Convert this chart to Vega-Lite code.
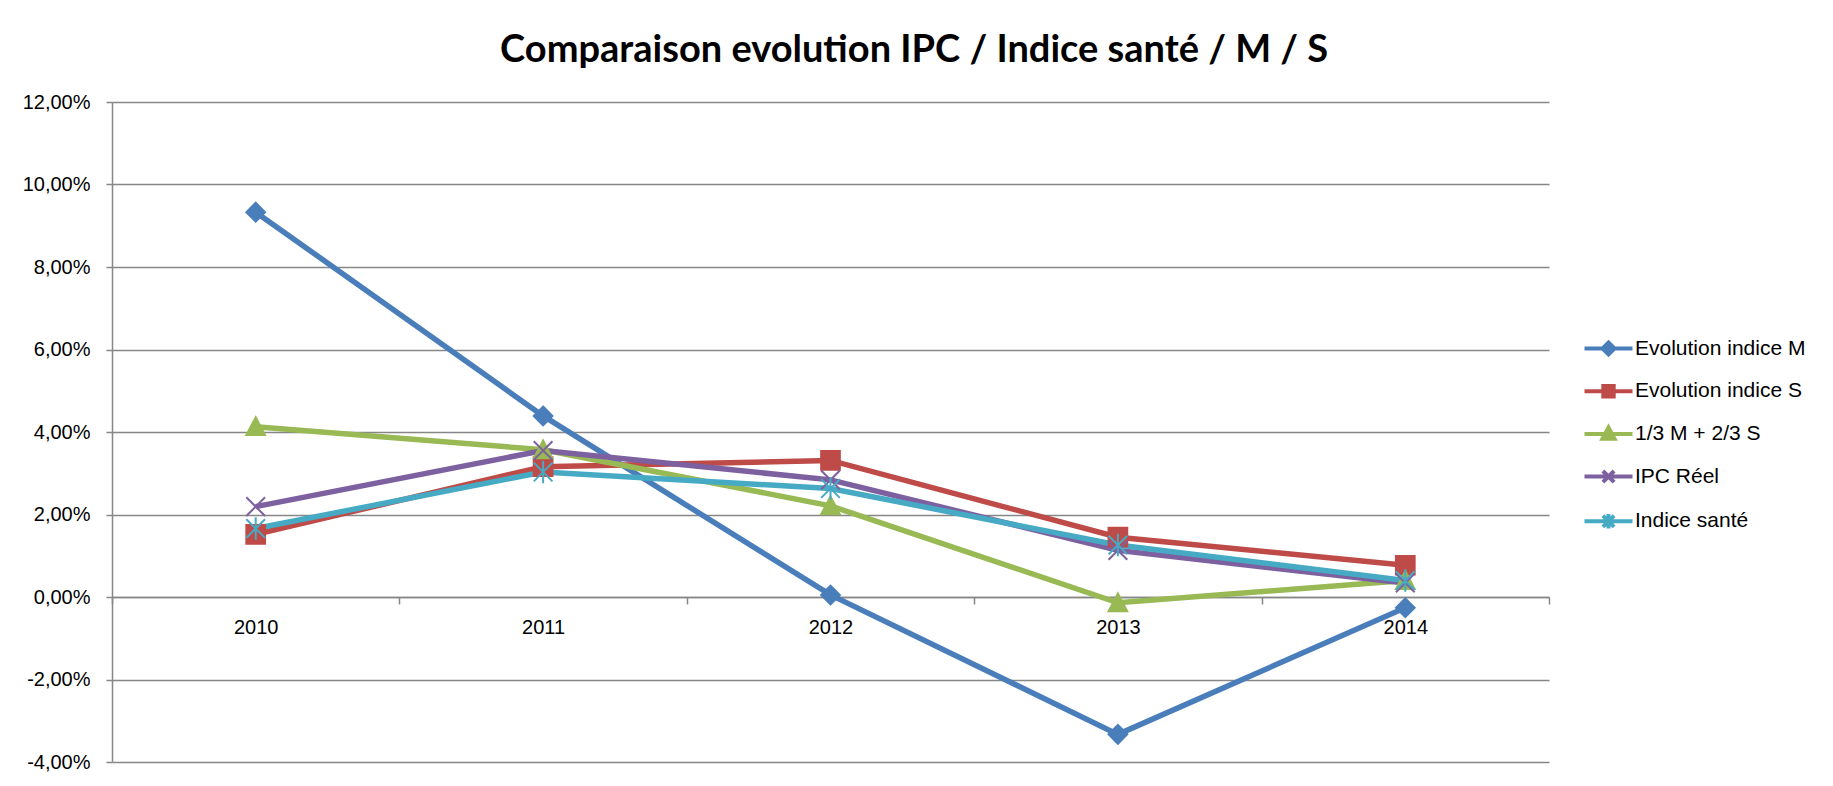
{
  "$schema": "https://vega.github.io/schema/vega-lite/v6.json",
  "width": 1437,
  "height": 660,
  "autosize": "none",
  "padding": {"left": 112, "top": 102, "right": 284, "bottom": 24},
  "background": "white",
  "title": {
    "text": "Comparaison evolution IPC / Indice santé / M / S",
    "font": "Lato",
    "fontSize": 38,
    "fontWeight": "bold",
    "color": "#000000",
    "anchor": "middle",
    "frame": "bounds",
    "baseline": "alphabetic",
    "offset": -8
  },
  "data": {
    "values": [
      {"serie": "Evolution indice M", "annee": 2010, "valeur": 0.0933},
      {"serie": "Evolution indice M", "annee": 2011, "valeur": 0.0439},
      {"serie": "Evolution indice M", "annee": 2012, "valeur": 0.0005},
      {"serie": "Evolution indice M", "annee": 2013, "valeur": -0.0333},
      {"serie": "Evolution indice M", "annee": 2014, "valeur": -0.0026},
      {"serie": "Evolution indice S", "annee": 2010, "valeur": 0.0152},
      {"serie": "Evolution indice S", "annee": 2011, "valeur": 0.0316},
      {"serie": "Evolution indice S", "annee": 2012, "valeur": 0.0331},
      {"serie": "Evolution indice S", "annee": 2013, "valeur": 0.0145},
      {"serie": "Evolution indice S", "annee": 2014, "valeur": 0.0077},
      {"serie": "1/3 M + 2/3 S", "annee": 2010, "valeur": 0.0413},
      {"serie": "1/3 M + 2/3 S", "annee": 2011, "valeur": 0.0357},
      {"serie": "1/3 M + 2/3 S", "annee": 2012, "valeur": 0.0221},
      {"serie": "1/3 M + 2/3 S", "annee": 2013, "valeur": -0.0014},
      {"serie": "1/3 M + 2/3 S", "annee": 2014, "valeur": 0.0040},
      {"serie": "IPC Réel", "annee": 2010, "valeur": 0.0219},
      {"serie": "IPC Réel", "annee": 2011, "valeur": 0.0355},
      {"serie": "IPC Réel", "annee": 2012, "valeur": 0.0284},
      {"serie": "IPC Réel", "annee": 2013, "valeur": 0.0113},
      {"serie": "IPC Réel", "annee": 2014, "valeur": 0.0034},
      {"serie": "Indice santé", "annee": 2010, "valeur": 0.0166},
      {"serie": "Indice santé", "annee": 2011, "valeur": 0.0303},
      {"serie": "Indice santé", "annee": 2012, "valeur": 0.0263},
      {"serie": "Indice santé", "annee": 2013, "valeur": 0.0126},
      {"serie": "Indice santé", "annee": 2014, "valeur": 0.0040}
    ]
  },
  "encoding": {
    "y": {
      "field": "valeur",
      "type": "quantitative",
      "scale": {"domain": [-0.04, 0.12], "nice": false, "zero": false},
      "axis": {
        "title": null,
        "values": [-0.04, -0.02, 0, 0.02, 0.04, 0.06, 0.08, 0.1, 0.12],
        "labelExpr": "replace(replace(format(datum.value, '.2%'), '.', ','), '\u2212', '-')",
        "grid": true,
        "gridColor": "#878787",
        "gridWidth": 1.5,
        "domainColor": "#878787",
        "domainWidth": 1.5,
        "tickColor": "#878787",
        "tickWidth": 1.5,
        "tickSize": 6,
        "labelPadding": 16,
        "labelFont": "Liberation Sans",
        "labelFontSize": 20,
        "labelColor": "#000000"
      }
    }
  },
  "layer": [
    {
      "mark": {"type": "line", "strokeWidth": 5.5},
      "encoding": {
        "x": {
          "field": "annee",
          "type": "quantitative",
          "scale": {"domain": [2009.5, 2014.5], "nice": false, "zero": false},
          "axis": {
            "orient": "bottom",
            "title": null,
            "values": [2010, 2011, 2012, 2013, 2014],
            "format": "d",
            "ticks": false,
            "grid": false,
            "domain": true,
            "domainColor": "#878787",
            "domainWidth": 1.5,
            "offset": -165,
            "labelFont": "Liberation Sans",
            "labelFontSize": 20,
            "labelColor": "#000000",
            "labelPadding": 20
          }
        },
        "stroke": {
          "field": "serie",
          "type": "nominal",
          "scale": {
            "domain": ["Evolution indice M", "Evolution indice S", "1/3 M + 2/3 S", "IPC Réel", "Indice santé"],
            "range": ["#4A7EBB", "#BE4B48", "#98B954", "#7D60A0", "#46AAC5"]
          },
          "legend": null
        }
      }
    },
    {
      "mark": {"type": "point", "filled": true, "strokeWidth": 2, "opacity": 1, "size": 350},
      "encoding": {
        "x": {
          "field": "annee",
          "type": "quantitative",
          "scale": {"domain": [2009.5, 2014.5], "nice": false, "zero": false},
          "axis": {
            "orient": "bottom",
            "title": null,
            "values": [2009.5, 2010.5, 2011.5, 2012.5, 2013.5, 2014.5],
            "labels": false,
            "ticks": true,
            "tickSize": 7,
            "tickColor": "#878787",
            "tickWidth": 1.5,
            "domain": false,
            "grid": false,
            "offset": -165
          }
        },
        "fill": {
          "field": "serie",
          "type": "nominal",
          "scale": {
            "domain": ["Evolution indice M", "Evolution indice S", "1/3 M + 2/3 S", "IPC Réel", "Indice santé"],
            "range": ["#4A7EBB", "#BE4B48", "#98B954", "#7D60A0", "#46AAC5"]
          },
          "legend": null
        },
        "stroke": {
          "field": "serie",
          "type": "nominal",
          "legend": null
        },
        "shape": {
          "field": "serie",
          "type": "nominal",
          "scale": {
            "domain": ["Evolution indice M", "Evolution indice S", "1/3 M + 2/3 S", "IPC Réel", "Indice santé"],
            "range": [
              "M0,-1L1,0L0,1L-1,0Z",
              "M-1,-1H1V1H-1Z",
              "M0,-1L1,0.9L-1,0.9Z",
              "M-1,-1L1,1M-1,1L1,-1",
              "M-1,-1L1,1M-1,1L1,-1M0,-1.2V1.2"
            ]
          },
          "legend": null
        }
      }
    },
    {
      "mark": {"type": "point", "filled": false, "opacity": 0, "size": 256, "strokeWidth": 4},
      "encoding": {
        "x": {
          "field": "annee",
          "type": "quantitative",
          "scale": {"domain": [2009.5, 2014.5], "nice": false, "zero": false},
          "axis": null
        },
        "color": {
          "field": "serie",
          "type": "nominal",
          "scale": {
            "domain": ["Evolution indice M", "Evolution indice S", "1/3 M + 2/3 S", "IPC Réel", "Indice santé"],
            "range": ["#4A7EBB", "#BE4B48", "#98B954", "#7D60A0", "#46AAC5"]
          },
          "legend": {
            "title": null, "orient": "none", "legendX": 1486, "legendY": 236,
            "symbolSize": 256, "symbolStrokeWidth": 4, "symbolOpacity": 1,
            "labelFont": "Liberation Sans", "labelFontSize": 21, "labelColor": "#000000",
            "labelOffset": 16, "rowPadding": 14.7, "padding": 0, "symbolOffset": 0, "labelLimit": 300
          }
        },
        "shape": {
          "field": "serie",
          "type": "nominal",
          "scale": {
            "domain": ["Evolution indice M", "Evolution indice S", "1/3 M + 2/3 S", "IPC Réel", "Indice santé"],
            "range": [
              "M-3,0H3M0,-0.75L0.75,0L0,0.75L-0.75,0ZM0,-0.35L0.35,0L0,0.35L-0.35,0Z",
              "M-3,0H3M-0.65,-0.65H0.65V0.65H-0.65ZM-0.2,-0.2H0.2V0.2H-0.2Z",
              "M-3,0H3M0,-0.8L0.75,0.6L-0.75,0.6ZM0,-0.2L0.25,0.3L-0.25,0.3Z",
              "M-3,0H3M-0.7,-0.7L0.7,0.7M-0.7,0.7L0.7,-0.7",
              "M-3,0H3M-0.7,-0.7L0.7,0.7M-0.7,0.7L0.7,-0.7M0,-0.9V0.9"
            ]
          },
          "legend": {
            "title": null, "orient": "none", "legendX": 1486, "legendY": 236,
            "symbolSize": 256, "symbolStrokeWidth": 4, "symbolOpacity": 1,
            "labelFont": "Liberation Sans", "labelFontSize": 21, "labelColor": "#000000",
            "labelOffset": 16, "rowPadding": 14.7, "padding": 0, "symbolOffset": 0, "labelLimit": 300
          }
        }
      }
    }
  ],
  "resolve": {"scale": {"shape": "independent", "color": "independent"}, "axis": {"x": "independent"}},
  "config": {"view": {"stroke": null}}
}
